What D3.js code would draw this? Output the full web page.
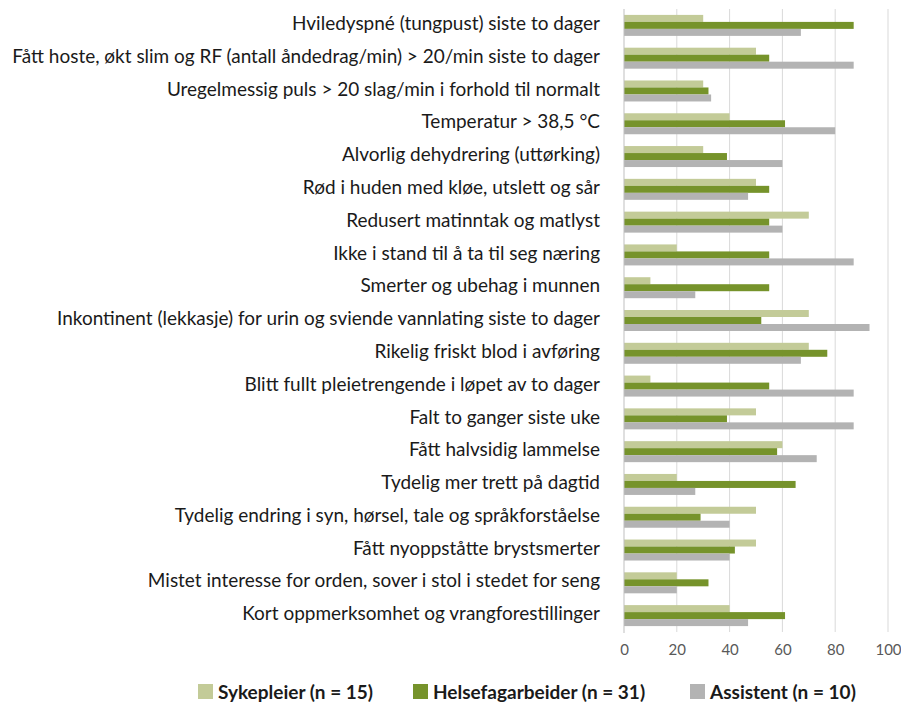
<!DOCTYPE html>
<html>
<head>
<meta charset="utf-8">
<script src="https://cdn.jsdelivr.net/npm/d3@7"></script>
<style>
  body { margin: 0; background: #fff; }
  svg { font-family: Lato, "Open Sans", sans-serif; }
</style>
</head>
<body>
<div id="chart"></div>
<script>
const categories = [
  "Hviledyspné (tungpust) siste to dager",
  "Fått hoste, økt slim og RF (antall åndedrag/min) > 20/min siste to dager",
  "Uregelmessig puls > 20 slag/min i forhold til normalt",
  "Temperatur > 38,5 °C",
  "Alvorlig dehydrering (uttørking)",
  "Rød i huden med kløe, utslett og sår",
  "Redusert matinntak og matlyst",
  "Ikke i stand til å ta til seg næring",
  "Smerter og ubehag i munnen",
  "Inkontinent (lekkasje) for urin og sviende vannlating siste to dager",
  "Rikelig friskt blod i avføring",
  "Blitt fullt pleietrengende i løpet av to dager",
  "Falt to ganger siste uke",
  "Fått halvsidig lammelse",
  "Tydelig mer trett på dagtid",
  "Tydelig endring i syn, hørsel, tale og språkforståelse",
  "Fått nyoppståtte brystsmerter",
  "Mistet interesse for orden, sover i stol i stedet for seng",
  "Kort oppmerksomhet og vrangforestillinger"
];

const seriesNames = ["Sykepleier (n = 15)", "Helsefagarbeider (n = 31)", "Assistent (n = 10)"];
const sykepleier = [30, 50, 30, 40, 30, 50, 70, 20, 10, 70, 70, 10, 50, 60, 20, 50, 50, 20, 40];
const helsefagarbeider = [87, 55, 32, 61, 39, 55, 55, 55, 55, 52, 77, 55, 39, 58, 65, 29, 42, 32, 61];
const assistent = [67, 87, 33, 80, 60, 47, 60, 87, 27, 93, 67, 87, 87, 73, 27, 40, 40, 20, 47];
const xTicks = [0, 20, 40, 60, 80, 100];
const colors = ["#c3cb98", "#76932b", "#b3b3b3"];

const seriesValues = [sykepleier, helsefagarbeider, assistent];

const width = 901, height = 702;
const margin = { top: 9, right: 13, bottom: 70, left: 624 };

const svg = d3.select("#chart").append("svg")
    .attr("width", width)
    .attr("height", height);

const x = d3.scaleLinear()
    .domain([0, 100])
    .range([margin.left, width - margin.right]);

const y = d3.scaleBand()
    .domain(categories)
    .range([margin.top, height - margin.bottom])
    .paddingInner(0.36)
    .paddingOuter(0.18);

const ySub = d3.scaleBand()
    .domain(d3.range(seriesNames.length))
    .range([0, y.bandwidth()]);

// gridlines
svg.append("g")
    .selectAll("line")
    .data(xTicks.slice(1))
    .enter().append("line")
    .attr("x1", d => x(d))
    .attr("x2", d => x(d))
    .attr("y1", margin.top)
    .attr("y2", height - margin.bottom)
    .attr("stroke", "#d9d9d9")
    .attr("stroke-width", 1);

// bars
seriesValues.forEach((vals, si) => {
    svg.append("g")
        .selectAll("rect")
        .data(vals)
        .enter().append("rect")
        .attr("x", x(0))
        .attr("y", (d, i) => y(categories[i]) + ySub(si))
        .attr("width", d => x(d) - x(0))
        .attr("height", ySub.bandwidth())
        .attr("fill", colors[si]);
});

// left axis line
svg.append("line")
    .attr("x1", x(0)).attr("x2", x(0))
    .attr("y1", margin.top).attr("y2", height - margin.bottom + 1)
    .attr("stroke", "#bfbfbf")
    .attr("stroke-width", 1);

// category labels
const labels = svg.append("g")
    .selectAll("text")
    .data(categories)
    .enter().append("text")
    .attr("x", 600)
    .attr("y", d => y(d) + y.bandwidth() / 2 - 2)
    .attr("dy", "0.35em")
    .attr("text-anchor", "end")
    .attr("fill", "#1a1a1a")
    .style("font-size", "17px")
    .text(d => d);

// fit the longest label to the reference width
let maxW = 0;
labels.each(function () { maxW = Math.max(maxW, this.getComputedTextLength()); });
const fs = 17 * 588 / maxW;
labels.style("font-size", fs + "px");

// x tick labels
const xAxis = d3.axisBottom(x).tickValues(xTicks).tickSize(0).tickPadding(12);
const gx = svg.append("g")
    .attr("transform", "translate(0," + (height - margin.bottom) + ")")
    .call(xAxis);
gx.select(".domain").remove();
gx.selectAll("text")
    .style("font-family", "Lato, sans-serif")
    .style("font-size", "15px")
    .attr("fill", "#595959");

// legend
const legendX = [198, 413, 690];
const legend = svg.append("g");
seriesNames.forEach((name, i) => {
    legend.append("rect")
        .attr("x", legendX[i])
        .attr("y", 684)
        .attr("width", 15)
        .attr("height", 15)
        .attr("fill", colors[i]);
    legend.append("text")
        .attr("x", legendX[i] + 20)
        .attr("y", 692)
        .attr("dy", "0.35em")
        .style("font-size", "19px")
        .style("font-weight", "bold")
        .attr("fill", "#1a1a1a")
        .text(name);
});
</script>
</body>
</html>
